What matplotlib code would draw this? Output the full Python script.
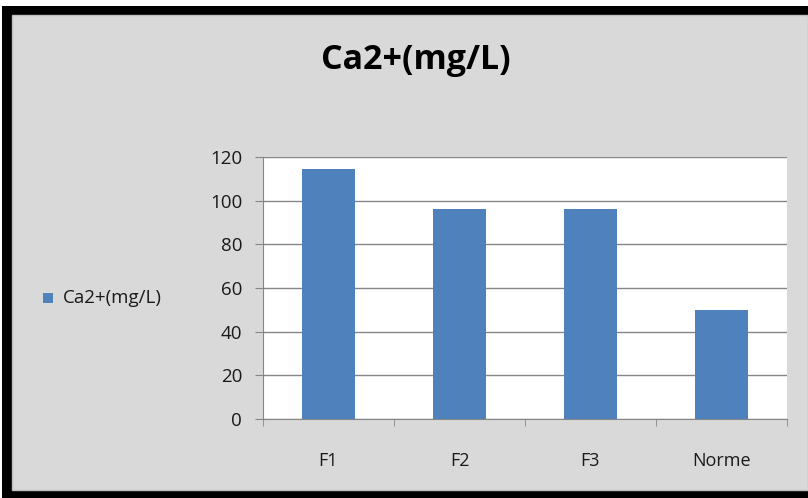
import matplotlib
matplotlib.use("Agg")
import matplotlib.pyplot as plt
from matplotlib.patches import Rectangle

categories = ["F1", "F2", "F3", "Norme"]
values = [114.5, 96, 96, 50]
series_name = "Ca2+(mg/L)"
yticks = [0, 20, 40, 60, 80, 100, 120]

W, H = 808, 498
plt.rcParams['font.family'] = ['Open Sans', 'DejaVu Sans']
fig = plt.figure(figsize=(W / 100, H / 100), dpi=100, facecolor="white")

def px(x0, y0, x1, y1):
    return (x0 / W, 1 - y1 / H), (x1 - x0) / W, (y1 - y0) / H

xy, w, h = px(2, 6, 808, 498)
fig.patches.append(Rectangle(xy, w, h, transform=fig.transFigure, facecolor="black", edgecolor="none", zorder=-10))
xy, w, h = px(12, 15, 808, 490)
fig.patches.append(Rectangle(xy, w, h, transform=fig.transFigure, facecolor="#D9D9D9", edgecolor="#BFBFBF", lw=1, zorder=-9))

ax = fig.add_axes([263 / W, 1 - 419 / H, (787 - 263) / W, (419 - 157) / H])
ax.set_zorder(2)
ax.set_facecolor("white")
x = list(range(len(categories)))
bars = ax.bar(x, values, width=0.4, color="#4F81BD", zorder=3, label=series_name)
ax.set_xlim(-0.5, len(categories) - 0.5)
ax.set_ylim(0, 120)
ax.set_yticks(yticks)
ax.set_yticklabels([str(t) for t in yticks], fontsize=13.5, color="#1a1a1a")
ax.yaxis.grid(True, color="#868686", lw=1, zorder=0)
ax.set_axisbelow(True)
ax.set_xticks(x)
ax.set_xticklabels(categories, fontsize=13, color="#1a1a1a")
ax.set_xticks([i - 0.5 for i in range(len(categories) + 1)], minor=True)
ax.tick_params(axis="x", which="major", length=0, pad=24)
ax.tick_params(axis="x", which="minor", length=5, color="#868686", direction="out")
ax.tick_params(axis="y", length=6, color="#868686", pad=9)
for s in ["top", "right"]:
    ax.spines[s].set_visible(False)
for s in ["left", "bottom"]:
    ax.spines[s].set_color("#868686")

fig.text(416 / W, 1 - 60 / H, "Ca2+(mg/L)", ha="center", va="center", fontsize=24.5, fontweight="bold")

fig.patches.append(Rectangle((43 / W, 1 - 303 / H), 10 / W, 10 / H, transform=fig.transFigure, facecolor="#4F81BD", edgecolor="none"))
fig.text(63 / W, 1 - 298 / H, series_name, ha="left", va="center", fontsize=13.5, color="#1a1a1a")

fig.savefig("out.png", dpi=100, facecolor=fig.get_facecolor())
